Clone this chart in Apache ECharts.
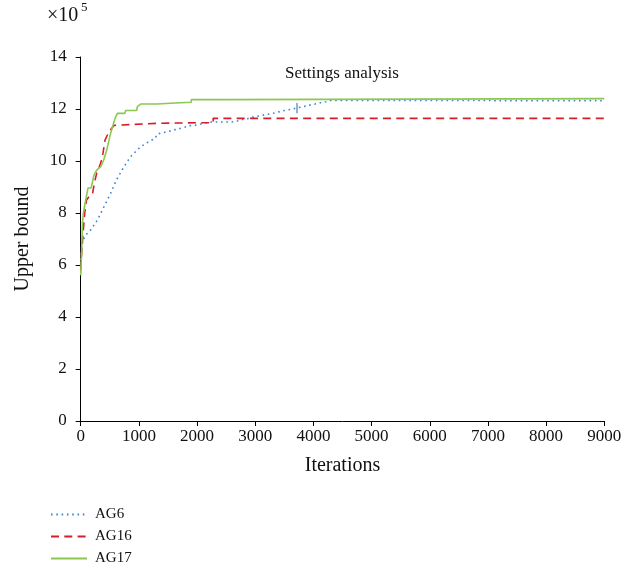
<!DOCTYPE html>
<html>
<head>
<meta charset="utf-8">
<script src="https://cdn.jsdelivr.net/npm/echarts@6/dist/echarts.min.js"></script>
<style>html,body{margin:0;padding:0;background:#fff}#c{width:635px;height:581px}</style>
</head>
<body>
<div id="c"></div>
<script>
var xTicks = [0, 1000, 2000, 3000, 4000, 5000, 6000, 7000, 8000, 9000];
var yTicks = [0, 2, 4, 6, 8, 10, 12, 14];
var seriesNames = ['AG6', 'AG16', 'AG17'];

var ag6 = [[0,6.2],[30,6.9],[86,7.15],[172,7.35],[287,7.73],[400,8.24],[515,8.76],[613,9.27],[744,9.78],[859,10.17],[1031,10.55],[1190,10.77],[1276,10.86],[1316,11.04],[1409,11.09],[1505,11.13],[1591,11.19],[1689,11.24],[1775,11.29],[1878,11.36],[1964,11.37],[2062,11.42],[2153,11.47],[2251,11.5],[2595,11.5],[2691,11.54],[2784,11.6],[2892,11.64],[2978,11.7],[3081,11.74],[3167,11.78],[3265,11.82],[3357,11.86],[3455,11.92],[3551,11.96],[3644,12.0],[3752,12.06],[3843,12.1],[3936,12.15],[4027,12.19],[4125,12.24],[4216,12.28],[4302,12.33],[9000,12.32]];

var ag16 = [[0,5.8],[20,6.6],[40,7.2],[69,8.0],[100,8.5],[143,8.63],[200,8.7],[240,9.2],[275,9.53],[344,9.92],[383,10.3],[418,10.8],[486,11.13],[572,11.37],[860,11.4],[1318,11.45],[2000,11.47],[2277,11.47],[2277,11.64],[9000,11.64]];

var ag17 = [[0,5.6],[15,6.5],[30,7.6],[46,8.0],[86,8.5],[125,8.96],[180,8.96],[228,9.46],[275,9.65],[344,9.78],[395,10.04],[447,10.42],[515,11.07],[590,11.64],[630,11.83],[760,11.83],[773,11.94],[960,11.94],[974,12.09],[1031,12.19],[1313,12.19],[1313,12.23],[1624,12.23],[1624,12.26],[1900,12.26],[1900,12.36],[2521,12.36],[2521,12.4],[9000,12.4]];

var glitch = [3720, 11.84, 12.23];

var font = 'Liberation Serif';
var chart = echarts.init(document.getElementById('c'));
chart.setOption({
  animation: false,
  backgroundColor: '#fff',
  title: {
    text: 'Settings analysis',
    left: 337, top: 60, textAlign: 'center',
    textStyle: {fontFamily: font, fontSize: 17, fontWeight: 'normal', color: '#111'}
  },
  grid: {left: 80.7, right: 30.7, top: 57, bottom: 160},
  legend: {
    orient: 'vertical', left: 45, top: 502, itemGap: 7,
    itemWidth: 36, itemHeight: 15,
    data: seriesNames,
    itemStyle: {opacity: 0},
    textStyle: {fontFamily: font, fontSize: 15, color: '#111', padding: [0,0,0,3]}
  },
  graphic: [
    {type: 'text', left: 47, top: 6,
      style: {text: '×10', font: '20px "Liberation Serif"', fill: '#111'}},
    {type: 'text', left: 81, top: 1,
      style: {text: '5', font: '13px "Liberation Serif"', fill: '#111'}}
  ],
  xAxis: {
    type: 'value', min: 0, max: 9000, interval: 1000,
    name: 'Iterations', nameLocation: 'middle', nameGap: 35,
    nameTextStyle: {fontFamily: font, fontSize: 20, color: '#111'},
    axisLine: {show: true, lineStyle: {color: '#000', width: 1}},
    axisTick: {show: true, length: 5, lineStyle: {color: '#000'}},
    axisLabel: {fontFamily: font, fontSize: 17, color: '#111', margin: 7,
      formatter: function(v){ return xTicks.indexOf(v) >= 0 ? String(v) : ''; }},
    splitLine: {show: false}
  },
  yAxis: {
    type: 'value', min: 0, max: 14, interval: 2,
    name: 'Upper bound', nameLocation: 'middle', nameGap: 48,
    nameTextStyle: {fontFamily: font, fontSize: 20, color: '#111'},
    axisLine: {show: true, lineStyle: {color: '#000', width: 1}},
    axisTick: {show: true, length: 5, lineStyle: {color: '#000'}},
    axisLabel: {fontFamily: font, fontSize: 17, color: '#111', margin: 14,
      formatter: function(v){ return yTicks.indexOf(v) >= 0 ? String(v) : ''; }},
    splitLine: {show: false}
  },
  series: [
    {name: seriesNames[0], type: 'line', data: ag6, symbol: 'none',
      lineStyle: {color: '#3f86cf', width: 1.6, type: [1.6, 3.7]},
      itemStyle: {color: '#3f86cf'},
      markLine: {silent: true, symbol: 'none', label: {show: false},
        lineStyle: {color: '#8db3de', width: 2, type: 'solid'},
        data: [[{coord: [glitch[0], glitch[1]]}, {coord: [glitch[0], glitch[2]]}]]}
    },
    {name: seriesNames[1], type: 'line', data: ag16, symbol: 'none',
      lineStyle: {color: '#d21f2a', width: 1.6, type: [8, 5.3]},
      itemStyle: {color: '#d21f2a'}},
    {name: seriesNames[2], type: 'line', data: ag17, symbol: 'none',
      lineStyle: {color: '#8cc850', width: 1.6, type: 'solid'},
      itemStyle: {color: '#8cc850'}}
  ]
});
</script>
</body>
</html>
